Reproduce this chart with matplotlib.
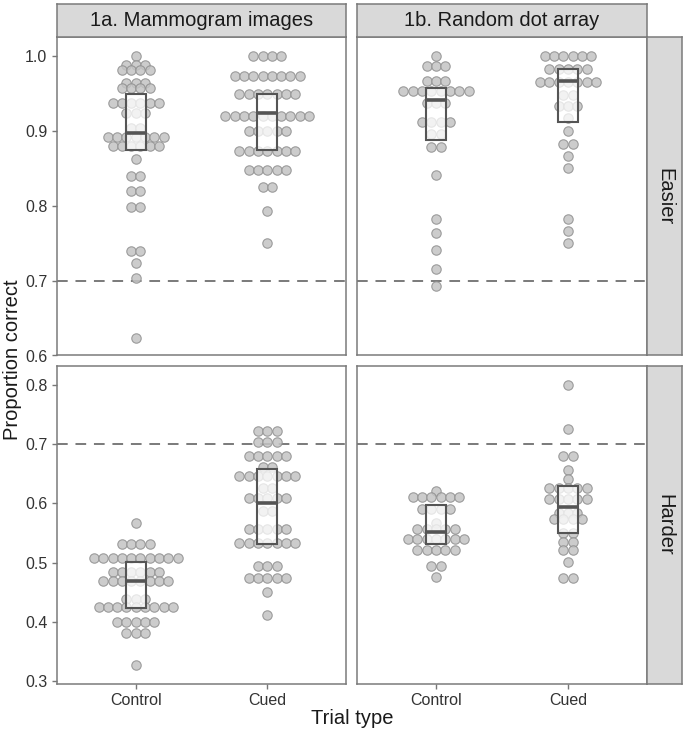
import matplotlib
matplotlib.use("Agg")
import matplotlib.pyplot as plt
from matplotlib.patches import Rectangle

plt.rcParams['font.family'] = ['Liberation Sans', 'DejaVu Sans']

categories = ["Control", "Cued"]
columns = ["1a. Mammogram images", "1b. Random dot array"]
rows = ["Easier", "Harder"]

# dotplot bins (bin centre, number of dots)
mammo_easy_ctrl_lv = [1.0, 0.9876, 0.981, 0.963, 0.9565, 0.9364, 0.923, 0.904, 0.891, 0.8794,
                      0.8617, 0.840, 0.819, 0.7984, 0.7397, 0.724, 0.704, 0.624]
mammo_easy_ctrl_n = [1, 3, 4, 3, 4, 6, 3, 2, 7, 6, 1, 2, 2, 2, 2, 1, 1, 1]
mammo_easy_cued_lv = [1.0, 0.973, 0.9485, 0.9195, 0.900, 0.8728, 0.8474, 0.8243, 0.7931, 0.7495]
mammo_easy_cued_n = [4, 8, 7, 10, 5, 7, 5, 2, 1, 1]

dots_easy_ctrl_lv = [1.0, 0.9866, 0.9658, 0.9529, 0.9364, 0.912, 0.8955, 0.8785, 0.8407,
                     0.782, 0.7629, 0.7406, 0.7156, 0.6925]
dots_easy_ctrl_n = [1, 3, 3, 8, 3, 4, 2, 2, 1, 1, 1, 1, 1, 1]
dots_easy_cued_lv = [1.0, 0.9818, 0.9653, 0.9475, 0.9328, 0.9164, 0.900, 0.882, 0.866, 0.8497,
                     0.782, 0.766, 0.7495]
dots_easy_cued_n = [6, 5, 7, 2, 3, 1, 1, 2, 1, 1, 1, 1, 1]

mammo_hard_ctrl_lv = [0.5673, 0.5323, 0.5073, 0.4845, 0.469, 0.4392, 0.425, 0.4004, 0.3806, 0.3265]
mammo_hard_ctrl_n = [1, 4, 10, 6, 8, 3, 9, 5, 3, 1]
mammo_hard_cued_lv = [0.7226, 0.7041, 0.6797, 0.662, 0.6463, 0.6267, 0.6086, 0.5873, 0.5576,
                      0.5337, 0.4943, 0.4735, 0.451, 0.4111]
mammo_hard_cued_n = [3, 3, 5, 2, 7, 2, 5, 2, 5, 7, 3, 5, 1, 1]

dots_hard_ctrl_lv = [0.6206, 0.6111, 0.59, 0.5673, 0.5573, 0.5405, 0.5213, 0.4943, 0.4764]
dots_hard_ctrl_n = [1, 6, 4, 1, 5, 7, 5, 2, 1]
dots_hard_cued_lv = [0.80, 0.7264, 0.6809, 0.656, 0.6407, 0.6267, 0.608, 0.5845, 0.5743, 0.55,
                     0.5345, 0.522, 0.5017, 0.4747]
dots_hard_cued_n = [1, 1, 2, 1, 1, 5, 5, 3, 4, 2, 2, 2, 1, 2]

# boxes: (q1, median, q3)
boxes = {
    (0, 0): [(0.874, 0.897, 0.949), (0.874, 0.924, 0.949)],
    (0, 1): [(0.888, 0.941, 0.9565), (0.911, 0.9658, 0.9818)],
    (1, 0): [(0.424, 0.469, 0.5017), (0.5309, 0.601, 0.6576)],
    (1, 1): [(0.5321, 0.5517, 0.5968), (0.5507, 0.5946, 0.6294)],
}

dots = {
    (0, 0): [(mammo_easy_ctrl_lv, mammo_easy_ctrl_n), (mammo_easy_cued_lv, mammo_easy_cued_n)],
    (0, 1): [(dots_easy_ctrl_lv, dots_easy_ctrl_n), (dots_easy_cued_lv, dots_easy_cued_n)],
    (1, 0): [(mammo_hard_ctrl_lv, mammo_hard_ctrl_n), (mammo_hard_cued_lv, mammo_hard_cued_n)],
    (1, 1): [(dots_hard_ctrl_lv, dots_hard_ctrl_n), (dots_hard_cued_lv, dots_hard_cued_n)],
}

ylims = [(0.6, 1.025), (0.296, 0.832)]
yticks = [[0.6, 0.7, 0.8, 0.9, 1.0], [0.3, 0.4, 0.5, 0.6, 0.7, 0.8]]

W, H = 685, 732
fig = plt.figure(figsize=(W / 100, H / 100), dpi=100)


def px_axes(x0, y0, x1, y1):
    return fig.add_axes([x0 / W, 1 - y1 / H, (x1 - x0) / W, (y1 - y0) / H])


col_x = [(57, 346), (357, 647)]
row_y = [(37, 355.5), (366, 683.5)]
dot_w = 0.071
edge = "#7a7a7a"

for r in range(2):
    for c in range(2):
        ax = px_axes(col_x[c][0], row_y[r][0], col_x[c][1], row_y[r][1])
        ax.set_xlim(0.4, 2.6)
        ax.set_ylim(*ylims[r])
        for s in ax.spines.values():
            s.set_color(edge)
            s.set_linewidth(1.1)
        ax.axhline(0.7, color="#7a7a7a", lw=1.4, ls=(0, (5.5, 4)), zorder=1)
        for k in range(2):
            lv, cnt = dots[(r, c)][k]
            xs, ys = [], []
            for v, n in zip(lv, cnt):
                for i in range(n):
                    xs.append(k + 1 + (i - (n - 1) / 2) * dot_w)
                    ys.append(v)
            ax.scatter(xs, ys, s=46, facecolor="#c4c4c4", edgecolor="#8f8f8f",
                       linewidth=0.8, alpha=0.85, zorder=2)
            q1, med, q3 = boxes[(r, c)][k]
            ax.add_patch(Rectangle((k + 1 - 0.075, q1), 0.15, q3 - q1, facecolor="white",
                                   alpha=0.75, edgecolor="none", zorder=3))
            ax.add_patch(Rectangle((k + 1 - 0.075, q1), 0.15, q3 - q1, facecolor="none",
                                   edgecolor="#555555", linewidth=1.5, zorder=4))
            ax.plot([k + 1 - 0.075, k + 1 + 0.075], [med, med], color="#555555",
                    lw=2.6, solid_capstyle="butt", zorder=5)
        ax.tick_params(colors="#777777", labelcolor="#333333", labelsize=11.5, length=3.5, width=1)
        if c == 0:
            ax.set_yticks(yticks[r])
            ax.set_yticklabels(["%.1f" % t for t in yticks[r]])
        else:
            ax.set_yticks([])
        if r == 1:
            ax.set_xticks([1, 2])
            ax.set_xticklabels(categories)
        else:
            ax.set_xticks([])

# top strips
for c in range(2):
    sa = px_axes(col_x[c][0], 4, col_x[c][1], 37)
    sa.set_facecolor("#d9d9d9")
    sa.set_xticks([])
    sa.set_yticks([])
    for s in sa.spines.values():
        s.set_color(edge)
        s.set_linewidth(1.1)
    sa.text(0.5, 0.5, columns[c], ha="center", va="center", fontsize=14.5,
            color="#1a1a1a", transform=sa.transAxes)

# right strips
for r in range(2):
    sa = px_axes(647, row_y[r][0], 682, row_y[r][1])
    sa.set_facecolor("#d9d9d9")
    sa.set_xticks([])
    sa.set_yticks([])
    for s in sa.spines.values():
        s.set_color(edge)
        s.set_linewidth(1.1)
    sa.text(0.5, 0.5, rows[r], ha="center", va="center", rotation=270, fontsize=14.5,
            color="#1a1a1a", transform=sa.transAxes)

fig.text(13 / W, 1 - 360 / H, "Proportion correct", rotation=90, ha="center", va="center",
         fontsize=14.5, color="#1a1a1a")
fig.text(352 / W, 1 - 719 / H, "Trial type", ha="center", va="center",
         fontsize=14.5, color="#1a1a1a")

fig.savefig("out.png", dpi=100)
